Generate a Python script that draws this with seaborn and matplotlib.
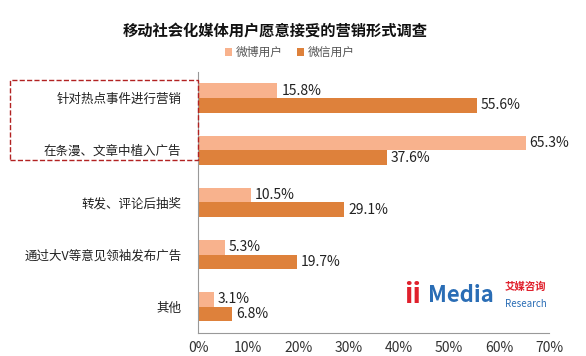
import pandas as pd
import matplotlib
matplotlib.use("Agg")
import matplotlib.pyplot as plt
import seaborn as sns
from matplotlib.patches import Rectangle

sns.set_style("white")
plt.rcParams['font.family'] = ['Noto Sans CJK SC', 'DejaVu Sans']

categories = ["针对热点事件进行营销", "在条漫、文章中植入广告", "转发、评论后抽奖",
              "通过大V等意见领袖发布广告", "其他"]
weibo = [15.8, 65.3, 10.5, 5.3, 3.1]
weixin = [55.6, 37.6, 29.1, 19.7, 6.8]
series = ["微博用户", "微信用户"]
colors = ["#F8B28D", "#DE813B"]
xticks = [0, 10, 20, 30, 40, 50, 60, 70]

df = pd.DataFrame({
    "类别": categories * 2,
    "用户": [series[0]] * len(categories) + [series[1]] * len(categories),
    "比例": weibo + weixin,
})

fig = plt.figure(figsize=(5.86, 3.56), dpi=100)
ax = fig.add_axes([0.338, 0.065, 0.599, 0.733])
sns.barplot(data=df, x="比例", y="类别", hue="用户", orient="h",
            palette=colors, width=0.56, gap=0, ax=ax, saturation=1, linewidth=0)

for cont in ax.containers:
    ax.bar_label(cont, labels=[f"{v:.1f}%" for v in cont.datavalues],
                 padding=3, fontsize=10, color="#222222")

ax.set_xlim(0, 70)
ax.set_xticks(xticks)
ax.set_xticklabels([f"{t}%" for t in xticks], fontsize=10, color="#333333")
ax.set_ylim(len(categories) - 0.5, -0.5)
ax.set_yticks(range(len(categories)))
ax.set_yticklabels(categories, fontsize=9, color="#222222")
ax.set_yticks([i + 0.5 for i in range(-1, len(categories))], minor=True)
ax.tick_params(axis="y", which="major", length=0, pad=12)
ax.tick_params(axis="y", which="minor", length=4, color="#999999", direction="out")
ax.tick_params(axis="x", length=3, color="#999999", direction="in", pad=6)
ax.set_xlabel("")
ax.set_ylabel("")
for s in ["top", "right"]:
    ax.spines[s].set_visible(False)
for s in ["left", "bottom"]:
    ax.spines[s].set_color("#999999")
    ax.spines[s].set_linewidth(0.8)

ax.legend(loc="upper center", bbox_to_anchor=(0.495, 0.9), bbox_transform=fig.transFigure,
          ncol=2, frameon=False, fontsize=8.5, handlelength=0.6, handleheight=0.6,
          columnspacing=1.2, handletextpad=0.3, labelcolor="#555555")

fig.text(0.47, 0.915, "移动社会化媒体用户愿意接受的营销形式调查", ha="center",
         va="center", fontsize=11, fontweight="bold", color="#111111")

# 红色虚线框
fig.patches.append(Rectangle((10 / 586, 1 - 160 / 356), 188 / 586, 80 / 356,
                             transform=fig.transFigure, fill=False,
                             edgecolor="#B22222", linestyle="--", linewidth=1))

# logo
fig.text(0.69, 0.17, "ii", fontsize=20, fontweight="bold", color="#E0202C",
         ha="left", va="center", style="italic")
fig.text(0.73, 0.17, "Media", fontsize=16, fontweight="bold", color="#2A6DB5",
         ha="left", va="center")
fig.text(0.862, 0.195, "艾媒咨询", fontsize=7.5, fontweight="bold", color="#E0202C",
         ha="left", va="center")
fig.text(0.862, 0.145, "Research", fontsize=7, style="italic", color="#2A6DB5",
         ha="left", va="center")

plt.savefig("out.png", dpi=100)
